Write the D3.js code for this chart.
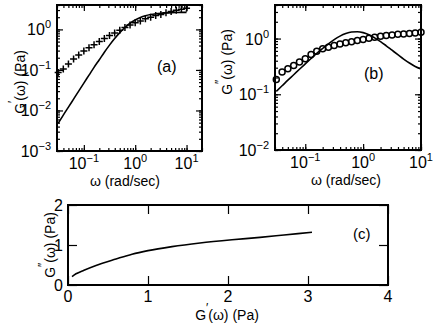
<!DOCTYPE html>
<html>
<head>
<meta charset="utf-8">
<script src="https://cdn.jsdelivr.net/npm/d3@7"></script>
<style>
body { margin: 0; background: #fff; }
svg { font-family: "Liberation Sans", Arial, sans-serif; }
.frame { fill: none; stroke: #000; stroke-width: 2; }
.axis path { display: none; }
.axis line { stroke: #000; stroke-width: 1.2; }
.curve { fill: none; stroke: #000; stroke-width: 1.6; }
.mark { fill: none; stroke: #000; stroke-width: 1.5; }
</style>
</head>
<body>
<svg width="436" height="325"></svg>
<script>
// frequencies (rad/sec)
var omega = [0.0316, 0.0398, 0.0501, 0.0631, 0.0794, 0.1, 0.126, 0.158, 0.2, 0.251,
             0.316, 0.398, 0.501, 0.631, 0.794, 1, 1.26, 1.58, 2, 2.51,
             3.16, 3.98, 5.01, 6.31, 7.94, 10];
// measured G' (crosses) and G'' (circles)
var gpData  = [0.087, 0.105, 0.141, 0.186, 0.234, 0.295, 0.355, 0.417, 0.5, 0.6,
               0.71, 0.81, 0.95, 1.12, 1.29, 1.45, 1.62, 1.82, 2.0, 2.19,
               2.34, 2.57, 2.75, 2.95, 3.16, 3.31];
var gppData = [0.185, 0.25, 0.288, 0.33, 0.378, 0.434, 0.518, 0.593, 0.655, 0.70,
               0.75, 0.80, 0.84, 0.88, 0.92, 0.96, 1.01, 1.05, 1.10, 1.13,
               1.16, 1.19, 1.21, 1.23, 1.26, 1.30];
// fitted curves
var gpFit  = [0.0048, 0.0077, 0.0121, 0.0191, 0.0301, 0.0474, 0.0744, 0.116, 0.179, 0.273,
              0.409, 0.594, 0.832, 1.114, 1.417, 1.711, 1.969, 2.175, 2.329, 2.438,
              2.512, 2.561, 2.593, 2.614, 2.627, 2.636];
var gppFit = [0.113, 0.142, 0.179, 0.224, 0.281, 0.351, 0.438, 0.542, 0.665, 0.806,
              0.957, 1.105, 1.23, 1.308, 1.322, 1.277, 1.17, 1.03, 0.883, 0.742,
              0.617, 0.513, 0.428, 0.364, 0.316, 0.285];
// panel (c): G'' against G'
var gpC  = [0.05, 0.1, 0.2, 0.35, 0.6, 0.8, 1.0, 1.3, 1.65, 2.05, 2.4, 2.7, 3.05];
var gppC = [0.21, 0.28, 0.37, 0.49, 0.65, 0.77, 0.86, 0.96, 1.05, 1.13, 1.19, 1.25, 1.32];

var xTicksLog = [0.1, 1, 10];
var yTicksA = [0.001, 0.01, 0.1, 1];
var yTicksB = [0.01, 0.1, 1];
var xTicksC = [0, 1, 2, 3, 4];
var yTicksC = [0, 1, 2];

var svg = d3.select("svg");

function pow10Label(t, v) {
    var e = Math.round(Math.log10(v));
    t.text("10");
    t.append("tspan").attr("dy", -7).attr("font-size", 11)
        .text(e < 0 ? "\u2212" + (-e) : "" + e);
}

function axisTitle(g, x, y, rot, prime) {
    var t = g.append("text")
        .attr("text-anchor", "middle")
        .attr("font-size", 14)
        .attr("transform", "translate(" + x + "," + y + ")" + (rot ? " rotate(-90)" : ""));
    t.append("tspan").text("G");
    t.append("tspan").attr("dy", -8).attr("font-size", 12).text(prime);
    t.append("tspan").attr("dy", 8).text("(\u03c9) (Pa)");
}

function ticks(g, gen, tr, vals, len) {
    g.append("g").attr("class", "axis").attr("transform", tr)
        .call(gen.tickValues(vals).tickSizeInner(-len).tickSizeOuter(0).tickFormat(""));
}

function logPanel(p) {
    var w = p.x1 - p.x0, h = p.y1 - p.y0;
    var g = svg.append("g").attr("transform", "translate(" + p.x0 + "," + p.y0 + ")");
    var x = d3.scaleLog().domain(p.xdom).range([0, w]);
    var y = d3.scaleLog().domain(p.ydom).range([h, 0]);

    var xm = x.ticks(), ym = y.ticks();
    [[xm, 3], [p.xmaj, 6]].forEach(function(s) {
        ticks(g, d3.axisBottom(x), "translate(0," + h + ")", s[0], s[1]);
        ticks(g, d3.axisTop(x), "translate(0,0)", s[0], s[1]);
    });
    [[ym, 3], [p.ymaj, 6]].forEach(function(s) {
        ticks(g, d3.axisLeft(y), "translate(0,0)", s[0], s[1]);
        ticks(g, d3.axisRight(y), "translate(" + w + ",0)", s[0], s[1]);
    });
    g.append("rect").attr("class", "frame").attr("width", w).attr("height", h);

    p.xmaj.forEach(function(v) {
        pow10Label(g.append("text").attr("x", x(v)).attr("y", h + 18)
            .attr("text-anchor", "middle").attr("font-size", 16), v);
    });
    p.ymaj.forEach(function(v) {
        pow10Label(g.append("text").attr("x", -6).attr("y", y(v) + 6)
            .attr("text-anchor", "end").attr("font-size", 16), v);
    });

    g.append("text").attr("x", p.xtx - p.x0).attr("y", h + 35)
        .attr("text-anchor", "middle").attr("font-size", 14).text("\u03c9 (rad/sec)");
    axisTitle(g, p.ytx - p.x0, p.yty - p.y0, true, p.prime);
    g.append("text").attr("x", p.lx - p.x0).attr("y", p.ly - p.y0)
        .attr("font-size", 16).text(p.tag);

    var line = d3.line().x(function(d) { return x(d[0]); })
        .y(function(d) { return y(d[1]); }).curve(d3.curveMonotoneX);
    g.append("path").attr("class", "curve").attr("d", line(d3.zip(omega, p.fit)));

    var pts = d3.zip(omega, p.data);
    if (p.mark == "cross") {
        g.selectAll(".pt").data(pts).enter().append("path").attr("class", "mark")
            .attr("d", function(d) {
                var cx = x(d[0]), cy = y(d[1]);
                return "M" + (cx - 3.5) + "," + cy + "H" + (cx + 3.5) +
                       "M" + cx + "," + (cy - 3.5) + "V" + (cy + 3.5);
            });
    } else {
        g.selectAll(".pt").data(pts).enter().append("circle").attr("class", "mark")
            .attr("stroke-width", 1.2)
            .attr("cx", function(d) { return x(d[0]); })
            .attr("cy", function(d) { return y(d[1]); })
            .attr("r", 3);
    }
}

logPanel({x0: 57, x1: 202, y0: 5, y1: 151, xdom: [0.03, 20], ydom: [0.001, 4],
          xmaj: xTicksLog, ymaj: yTicksA, fit: gpFit, data: gpData, mark: "cross",
          prime: "\u2032", tag: "(a)", lx: 157, ly: 72, xtx: 125, ytx: 25, yty: 82});
logPanel({x0: 275, x1: 421, y0: 5, y1: 150, xdom: [0.03, 10], ydom: [0.01, 4],
          xmaj: xTicksLog, ymaj: yTicksB, fit: gppFit, data: gppData, mark: "circle",
          prime: "\u2033", tag: "(b)", lx: 364, ly: 79, xtx: 346, ytx: 232, yty: 62});

// panel (c)
(function() {
    var x0 = 68, x1 = 388, y0 = 205, y1 = 285, w = x1 - x0, h = y1 - y0;
    var g = svg.append("g").attr("transform", "translate(" + x0 + "," + y0 + ")");
    var x = d3.scaleLinear().domain([0, 4]).range([0, w]);
    var y = d3.scaleLinear().domain([0, 2]).range([h, 0]);
    ticks(g, d3.axisBottom(x), "translate(0," + h + ")", xTicksC, 9);
    ticks(g, d3.axisTop(x), "translate(0,0)", xTicksC, 9);
    ticks(g, d3.axisLeft(y), "translate(0,0)", yTicksC, 9);
    ticks(g, d3.axisRight(y), "translate(" + w + ",0)", yTicksC, 9);
    g.append("rect").attr("class", "frame").attr("width", w).attr("height", h);

    xTicksC.forEach(function(v) {
        g.append("text").attr("x", x(v)).attr("y", h + 17).attr("text-anchor", "middle")
            .attr("font-size", 16).text(v);
    });
    yTicksC.forEach(function(v) {
        g.append("text").attr("x", -5).attr("y", y(v) + 6).attr("text-anchor", "end")
            .attr("font-size", 16).text(v);
    });
    axisTitle(g, 227 - x0, 320 - y0, false, "\u2032");
    axisTitle(g, 55 - x0, 245 - y0, true, "\u2033");
    g.append("text").attr("x", 353 - x0).attr("y", 239 - y0).attr("font-size", 15).text("(c)");

    var line = d3.line().x(function(d) { return x(d[0]); })
        .y(function(d) { return y(d[1]); }).curve(d3.curveMonotoneX);
    g.append("path").attr("class", "curve").attr("d", line(d3.zip(gpC, gppC)));
})();
</script>
</body>
</html>
